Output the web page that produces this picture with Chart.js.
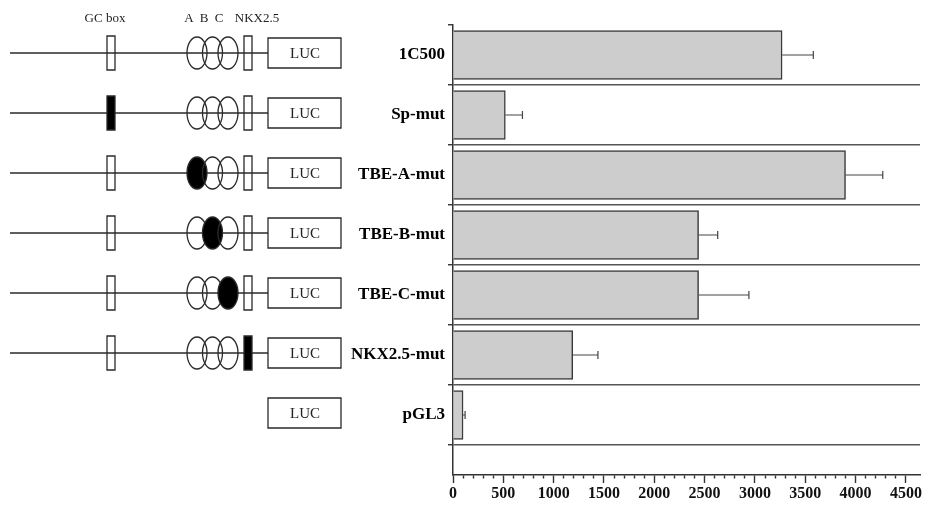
<!DOCTYPE html>
<html><head><meta charset="utf-8">
<script src="https://cdn.jsdelivr.net/npm/chart.js@4.4.1/dist/chart.umd.min.js"></script>
<style>html,body{margin:0;padding:0;background:#fff;}#wrap{width:931px;height:506px;position:relative;}</style>
</head><body><div id="wrap"><canvas id="c" width="931" height="506"></canvas></div>
<script>
// ---- data ----
const categories = ['1C500', 'Sp-mut', 'TBE-A-mut', 'TBE-B-mut', 'TBE-C-mut', 'NKX2.5-mut', 'pGL3'];
const activity = [3270, 520, 3900, 2440, 2440, 1190, 100];
const errors = [310, 170, 370, 190, 500, 250, 20];
// which element of the construct is mutated (drawn black); 'none' = wild type, 'vector' = LUC only
const mutatedSite = ['none', 'GC', 'A', 'B', 'C', 'NKX', 'vector'];
const xTickValues = [0, 500, 1000, 1500, 2000, 2500, 3000, 3500, 4000, 4500];
const headerLabels = ['GC box', 'A', 'B', 'C', 'NKX2.5'];

const SERIF = '"Liberation Serif", "Times New Roman", serif';
const INK = '#2a2a2a';

const errorBars = {
  id: 'errorBars',
  afterDatasetsDraw(chart) {
    const {ctx, scales: {x, y}} = chart;
    ctx.save();
    ctx.strokeStyle = '#444';
    ctx.lineWidth = 1.2;
    activity.forEach((v, i) => {
      const py = y.getPixelForValue(i);
      const x0 = x.getPixelForValue(v);
      const x1 = x.getPixelForValue(v + errors[i]);
      ctx.beginPath();
      ctx.moveTo(x0, py); ctx.lineTo(x1, py);
      ctx.moveTo(x1, py - 4); ctx.lineTo(x1, py + 4);
      ctx.stroke();
    });
    ctx.restore();
  }
};

const diagram = {
  id: 'diagram',
  afterDraw(chart) {
    const {ctx, scales: {y}} = chart;
    ctx.save();
    ctx.fillStyle = '#222';
    ctx.textAlign = 'center';
    ctx.textBaseline = 'middle';
    ctx.font = '13px ' + SERIF;
    const hx = [105, 189, 204, 219, 257];
    headerLabels.forEach((t, k) => ctx.fillText(t, hx[k], 19));
    const ellX = [197, 212.5, 228];
    const ellName = ['A', 'B', 'C'];
    categories.forEach((c, i) => {
      const cy = y.getPixelForValue(i) - 2;
      const site = mutatedSite[i];
      ctx.strokeStyle = INK;
      ctx.lineWidth = 1.3;
      if (site !== 'vector') {
        ctx.beginPath(); ctx.moveTo(10, cy); ctx.lineTo(268, cy); ctx.stroke();
        // GC box
        ctx.beginPath(); ctx.rect(107, cy - 17, 8, 34);
        if (site === 'GC') { ctx.fillStyle = '#000'; ctx.fill(); }
        ctx.stroke();
        // T-box ellipses
        ellX.forEach((ex, k) => {
          ctx.beginPath(); ctx.ellipse(ex, cy, 10, 16, 0, 0, Math.PI * 2);
          if (site === ellName[k]) { ctx.fillStyle = '#000'; ctx.fill(); }
          ctx.stroke();
        });
        // NKX2.5 box
        ctx.beginPath(); ctx.rect(244, cy - 17, 8, 34);
        if (site === 'NKX') { ctx.fillStyle = '#000'; ctx.fill(); }
        ctx.stroke();
      }
      // LUC box
      ctx.beginPath(); ctx.rect(268, cy - 15, 73, 30); ctx.stroke();
      ctx.fillStyle = '#222';
      ctx.font = '15px ' + SERIF;
      ctx.fillText('LUC', 305, cy + 1);
    });
    ctx.restore();
  }
};

const yTicks = [];
for (let k = -0.5; k <= 6.5; k += 0.5) yTicks.push(k);
const xMinorTicks = [];
for (let v = 0; v <= 4500; v += 100) xMinorTicks.push(v);

new Chart(document.getElementById('c'), {
  type: 'bar',
  data: {
    datasets: [{
      data: activity.map((v, i) => ({x: v, y: i})),
      backgroundColor: '#cdcdcd',
      borderColor: '#3a3a3a',
      borderWidth: 1.5,
      barThickness: 49
    }]
  },
  options: {
    indexAxis: 'y',
    responsive: false,
    animation: false,
    layout: {padding: {top: 25, right: 11, left: 0, bottom: 0}},
    plugins: {legend: {display: false}, tooltip: {enabled: false}},
    scales: {
      x: {
        type: 'linear', min: 0, max: 4640,
        afterBuildTicks: s => { s.ticks = xMinorTicks.map(v => ({value: v})); },
        afterFit: s => { s.height = 31; },
        ticks: {
          autoSkip: false, maxRotation: 0, padding: 1,
          callback: v => xTickValues.includes(v) ? String(v) : '',
          font: {family: SERIF, size: 16, weight: 'bold'}, color: '#111'
        },
        grid: {
          drawOnChartArea: false, drawTicks: true, tickLength: 8,
          tickColor: '#333', tickWidth: 1.4,
          tickBorderDash: ctx => (ctx.tick && xTickValues.includes(ctx.tick.value)) ? [] : [3, 30]
        },
        border: {display: true, color: '#333', width: 1.5}
      },
      y: {
        type: 'linear', reverse: true, min: -0.5, max: 7, offset: false,
        afterBuildTicks: s => { s.ticks = yTicks.map(v => ({value: v})); },
        afterFit: s => { s.width = 453; },
        ticks: {
          autoSkip: false, padding: 3,
          callback: v => Number.isInteger(v) ? categories[v] : '',
          font: {family: SERIF, size: 17, weight: 'bold'}, color: '#000'
        },
        grid: {
          offset: false,
          lineWidth: 1.5, tickLength: 5, tickWidth: 1.4,
          color: ctx => (ctx.tick && !Number.isInteger(ctx.tick.value) && ctx.tick.value > 0) ? '#555' : 'rgba(0,0,0,0)',
          tickColor: ctx => (ctx.tick && !Number.isInteger(ctx.tick.value)) ? '#333' : 'rgba(0,0,0,0)'
        },
        border: {display: true, color: '#333', width: 1.5}
      }
    }
  },
  plugins: [errorBars, diagram]
});
</script>
</body></html>
